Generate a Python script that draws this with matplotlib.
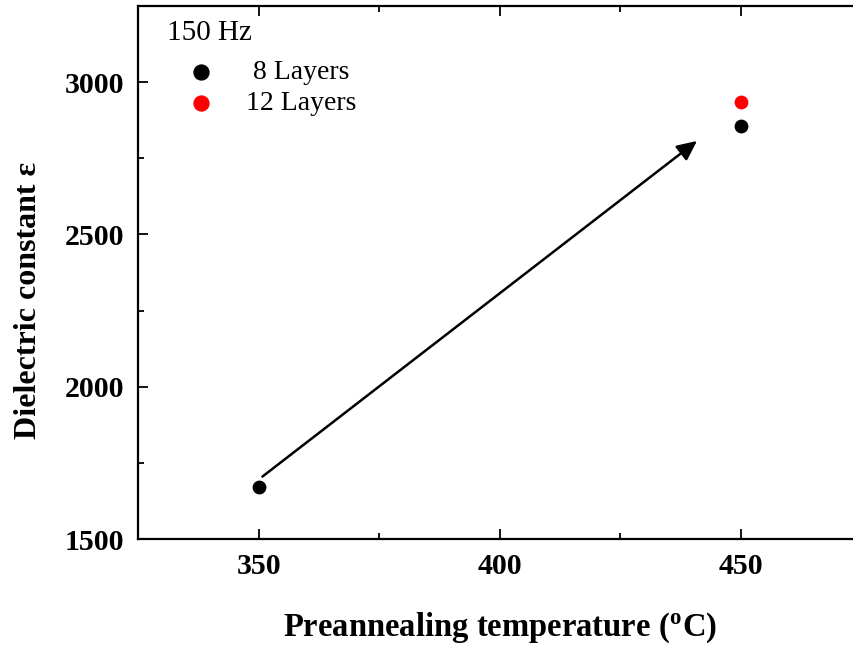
import matplotlib
matplotlib.use("Agg")
from matplotlib import pyplot as plt
from matplotlib.ticker import MultipleLocator

plt.rcParams['font.family'] = ['Liberation Serif', 'DejaVu Serif']
plt.rcParams['mathtext.fontset'] = 'stix'

# data
temps_8 = [350, 450]
eps_8 = [1670, 2856]
temps_12 = [450]
eps_12 = [2935]
arrow_start = (350.8, 1705)
arrow_end = (440.9, 2807)

fig = plt.figure(figsize=(8.54, 6.45), dpi=100)
ax = fig.add_axes([138 / 854, 106 / 645, 723.5 / 854, 533 / 645])

ax.scatter(temps_8, eps_8, s=80, color='black', label=' 8 Layers', zorder=3)
ax.scatter(temps_12, eps_12, s=80, color='red', label='12 Layers', zorder=3)

ax.annotate('', xy=arrow_end, xytext=arrow_start,
            arrowprops=dict(arrowstyle='-|>,head_length=0.6,head_width=0.28',
                            mutation_scale=20, color='black', lw=1.8,
                            shrinkA=0, shrinkB=0))

ax.set_xlim(325, 475)
ax.set_ylim(1500, 3250)
ax.xaxis.set_major_locator(MultipleLocator(50))
ax.xaxis.set_minor_locator(MultipleLocator(25))
ax.yaxis.set_major_locator(MultipleLocator(500))
ax.yaxis.set_minor_locator(MultipleLocator(250))
ax.tick_params(which='both', direction='in', top=True, right=False, width=1.3,
               labelsize=21.5, pad=10)
ax.tick_params(which='major', length=7)
ax.tick_params(which='minor', length=4)
for lab in ax.get_xticklabels() + ax.get_yticklabels():
    lab.set_fontweight('bold')

for side in ['left', 'bottom', 'top']:
    ax.spines[side].set_linewidth(1.6)
ax.spines['right'].set_visible(False)

ax.set_xlabel('Preannealing temperature ($^\\mathregular{o}$C)', fontsize=23.5,
              fontweight='bold', labelpad=22)
ax.set_ylabel('Dielectric constant ε', fontsize=23, fontweight='bold', labelpad=16)
ax.yaxis.set_label_coords(-0.131, 0.447)

ax.text(0.040, 0.949, '150 Hz', transform=ax.transAxes, fontsize=21,
        ha='left', va='center')
ax.legend(loc='upper left', bbox_to_anchor=(0.0483, 0.925), borderpad=0,
          frameon=False, fontsize=20, handlelength=1.0, handletextpad=1.12,
          labelspacing=0.2, markerscale=1.2)

fig.savefig('out.png', dpi=100)
